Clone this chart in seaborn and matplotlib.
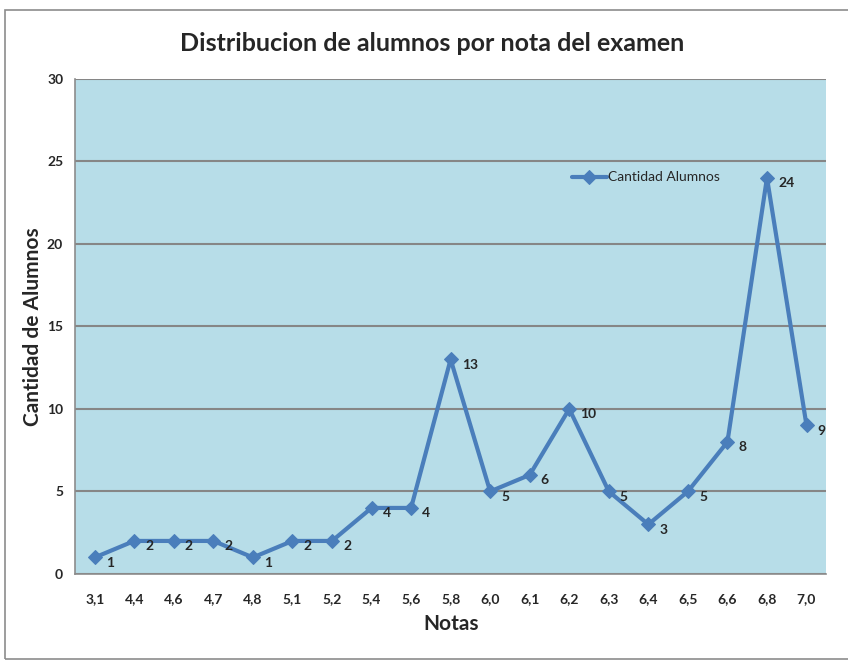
import pandas as pd
import seaborn as sns
import matplotlib.pyplot as plt
from matplotlib.patches import Rectangle

# Data
notas = ["3,1", "4,4", "4,6", "4,7", "4,8", "5,1", "5,2", "5,4", "5,6", "5,8",
         "6,0", "6,1", "6,2", "6,3", "6,4", "6,5", "6,6", "6,8", "7,0"]
cantidad = [1, 2, 2, 2, 1, 2, 2, 4, 4, 13, 5, 6, 10, 5, 3, 5, 8, 24, 9]

df = pd.DataFrame({"pos": range(len(notas)), "Nota": notas, "Cantidad Alumnos": cantidad})

sns.set_style("white")
plt.rcParams["font.family"] = ["Lato", "DejaVu Sans"]

fig = plt.figure(figsize=(8.48, 6.62), dpi=100)
ax = fig.add_axes([0.0884, 0.133, 0.886, 0.748])
fig.patches.append(Rectangle((0.006, 0.005), 1.2, 0.98, transform=fig.transFigure,
                             fill=False, edgecolor="#8c8c8c", linewidth=1.2))

line_color = "#4a7ebb"
sns.lineplot(data=df, x="pos", y="Cantidad Alumnos", ax=ax, color=line_color,
             linewidth=3, marker="D", markersize=7, markeredgecolor=line_color,
             label="Cantidad Alumnos")

for x, y in zip(df["pos"], df["Cantidad Alumnos"]):
    ax.annotate(str(y), (x, y), xytext=(8, -4), textcoords="offset points",
                fontsize=10, fontweight="bold", ha="left", va="center")

ax.set_facecolor("#b7dde8")
ax.set_xlim(-0.5, len(notas) - 0.5)
ax.set_ylim(0, 30)
ax.set_yticks(range(0, 31, 5))
ax.set_xticks(range(len(notas)))
ax.set_xticklabels(notas)
ax.set_xticks([i - 0.5 for i in range(len(notas) + 1)], minor=True)
ax.tick_params(axis="x", which="major", length=0, pad=14, labelsize=10)
ax.tick_params(axis="x", which="minor", length=5, color="#8c8c8c", direction="out", width=1)
ax.tick_params(axis="y", length=5, color="#8c8c8c", direction="out", labelsize=10, width=1)
for lbl in ax.get_xticklabels() + ax.get_yticklabels():
    lbl.set_fontweight("bold")

ax.grid(axis="y", color="#868686", linewidth=1.5)
ax.set_axisbelow(True)
for side in ["top", "right"]:
    ax.spines[side].set_visible(False)
for side in ["left", "bottom"]:
    ax.spines[side].set_color("#8c8c8c")
    ax.spines[side].set_linewidth(1.2)

ax.set_xlabel("Notas", fontsize=15, fontweight="bold", labelpad=6)
ax.set_ylabel("Cantidad de Alumnos", fontsize=15, fontweight="bold", labelpad=3)
fig.suptitle("Distribucion de alumnos por nota del examen", fontsize=18,
             fontweight="bold", x=0.51, y=0.952)

ax.legend(loc="upper left", bbox_to_anchor=(0.645, 0.838), frameon=False,
          fontsize=10, handlelength=2.5, handletextpad=0.1)

fig.savefig("out.png", dpi=100)
